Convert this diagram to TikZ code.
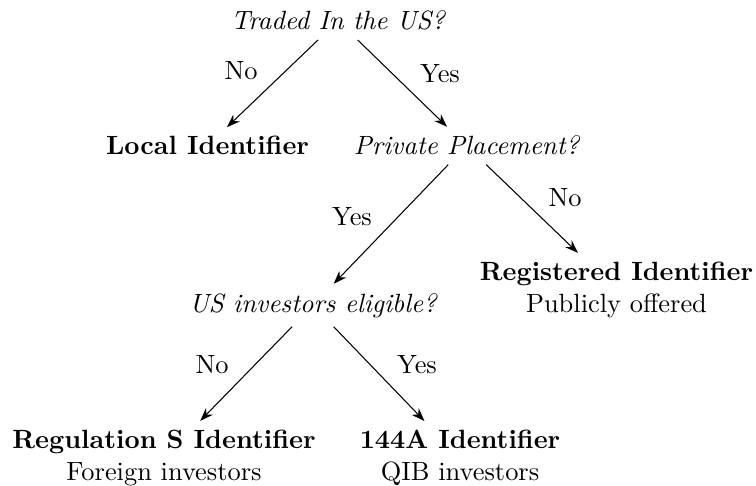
\documentclass[tikz,border=0pt]{standalone}
\usetikzlibrary{arrows.meta}
\begin{document}
\begin{tikzpicture}[x=0.3788pt,y=-0.3788pt,
  question/.style={font=\itshape},
  answer/.style={align=center},
  lbl/.style={anchor=base},
  arr/.style={-{Stealth[length=5pt,width=3.6pt]}, line width=0.4pt}]
\useasboundingbox (0,0) rectangle (756,485);
\node[question, anchor=base] (traded) at (338,30) {Traded In the US?};
\node[font=\bfseries, anchor=base] (local) at (207.5,155) {Local Identifier};
\node[question, anchor=base] (pp) at (466.5,155) {Private Placement?};
\node[answer] (reg) at (616.5,290) {\textbf{Registered Identifier}\\Publicly offered};
\node[question, anchor=base] (us) at (313,312) {US investors eligible?};
\node[answer] (regs) at (164,458) {\textbf{Regulation S Identifier}\\Foreign investors};
\node[answer] (qib) at (460,458) {\textbf{144A Identifier}\\QIB investors};
\draw[arr] (traded) -- (local);
\draw[arr] (traded) -- (pp);
\draw[arr] (pp) -- (us);
\draw[arr] (pp) -- (reg);
\draw[arr] (us) -- (regs);
\draw[arr] (us) -- (qib);
\node[lbl] (l1) at (241,80) {No};
\node[lbl] (l2) at (440,83) {Yes};
\node[lbl] (l3) at (352,225) {Yes};
\node[lbl] (l4) at (565,206) {No};
\node[lbl] (l5) at (212,373) {No};
\node[lbl] (l6) at (417,373) {Yes};
\end{tikzpicture}
\end{document}
